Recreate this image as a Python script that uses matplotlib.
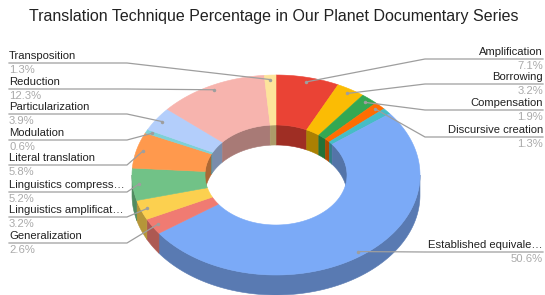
import numpy as np
import matplotlib.pyplot as plt
from matplotlib.colors import to_rgb

plt.rcParams['font.family'] = ['Liberation Sans', 'DejaVu Sans']

# data, in order clockwise from 12 o'clock
labels = ['Amplification', 'Borrowing', 'Compensation', 'Discursive creation',
          None,  # small teal slice, no label shown
          'Established equivale\u2026', 'Generalization', 'Linguistics amplificat\u2026',
          'Linguistics compress\u2026', 'Literal translation', 'Modulation',
          'Particularization', 'Reduction', 'Transposition']
values = [7.1, 3.2, 1.9, 1.3, 1.0, 50.6, 2.6, 3.2, 5.2, 5.8, 0.6, 3.9, 12.3, 1.3]
colors = ['#EA4335', '#FBBC04', '#34A853', '#FF6D01', '#46BDC6', '#7BAAF7',
          '#F07B72', '#FCD04F', '#71C287', '#FF994D', '#7ED1D7', '#B3CEFB',
          '#F7B4AE', '#FDE49B']

title = 'Translation Technique Percentage in Our Planet Documentary Series'

# layout (pixels)
CX, CY = 276, 175
RX, RY = 144, 100
IRX, IRY = 71, 50
DEPTH = 20
# y of the leader line under each label, side
label_pos = {
    'Amplification': ('R', 59), 'Borrowing': ('R', 84), 'Compensation': ('R', 110),
    'Discursive creation': ('R', 137), 'Established equivale\u2026': ('R', 252),
    'Transposition': ('L', 63), 'Reduction': ('L', 89), 'Particularization': ('L', 114),
    'Modulation': ('L', 140), 'Literal translation': ('L', 165),
    'Linguistics compress\u2026': ('L', 192), 'Linguistics amplificat\u2026': ('L', 217),
    'Generalization': ('L', 243),
}


def arc(t0, t1, rx, ry, dy=0):
    n = max(int(abs(t1 - t0) * 2) + 2, 2)
    t = np.radians(np.linspace(t0, t1, n))
    return np.column_stack([CX + rx * np.sin(t), CY - ry * np.cos(t) + dy])


def shade(c, f):
    return tuple(np.array(to_rgb(c)) * f)


fig = plt.figure(figsize=(5.45, 2.95), dpi=100)
ax = fig.add_axes([0, 0, 1, 1])
ax.set_xlim(0, 545)
ax.set_ylim(295, 0)
ax.axis('off')

total = sum(values)
edges = np.concatenate([[0], np.cumsum(values)]) / total * 360

# inner back wall (seen through the hole)
for i, c in enumerate(colors):
    t0, t1 = edges[i], edges[i + 1]
    for lo, hi in [(0, 90), (270, 360)]:
        a, b = max(t0, lo), min(t1, hi)
        if a < b:
            p = np.vstack([arc(a, b, IRX, IRY), arc(b, a, IRX, IRY, DEPTH)])
            col = shade(c, 0.68)
            ax.fill(p[:, 0], p[:, 1], fc=col, ec=col, lw=0.4, zorder=1)

# outer front side
for i, c in enumerate(colors):
    a, b = max(edges[i], 90), min(edges[i + 1], 270)
    if a < b:
        p = np.vstack([arc(a, b, RX, RY), arc(b, a, RX, RY, DEPTH)])
        col = shade(c, 0.72)
        ax.fill(p[:, 0], p[:, 1], fc=col, ec=col, lw=0.4, zorder=2)

# top surface
for i, c in enumerate(colors):
    t0, t1 = edges[i], edges[i + 1]
    p = np.vstack([arc(t0, t1, RX, RY), arc(t1, t0, IRX, IRY)])
    ax.fill(p[:, 0], p[:, 1], fc=c, ec=c, lw=0.4, zorder=3)

# labels with leader lines
line_c = '#9e9e9e'
for i, lab in enumerate(labels):
    if lab is None:
        continue
    side, ly = label_pos[lab]
    tm = np.radians((edges[i] + edges[i + 1]) / 2)
    px = CX + 0.955 * RX * np.sin(tm)
    py = CY - 0.955 * RY * np.cos(tm)
    pct = f'{values[i]:.1f}%'
    if side == 'L':
        ax.plot([9, 127, px], [ly, ly, py], color=line_c, lw=0.9, zorder=4)
        ax.text(9, ly - 2, lab, ha='left', va='bottom', fontsize=8.1, color='#222222')
        ax.text(9, ly + 2, pct, ha='left', va='top', fontsize=8.1, color='#aaaaaa')
    else:
        ax.plot([543, 425, px], [ly, ly, py], color=line_c, lw=0.9, zorder=4)
        ax.text(543, ly - 2, lab, ha='right', va='bottom', fontsize=8.1, color='#222222')
        ax.text(543, ly + 2, pct, ha='right', va='top', fontsize=8.1, color='#aaaaaa')
    ax.plot(px, py, 'o', ms=2.5, color=line_c, mec='none', zorder=5)

ax.text(273.5, 17, title, ha='center', va='center', fontsize=11.5, color='#222222')

fig.savefig('out.png', dpi=100)
